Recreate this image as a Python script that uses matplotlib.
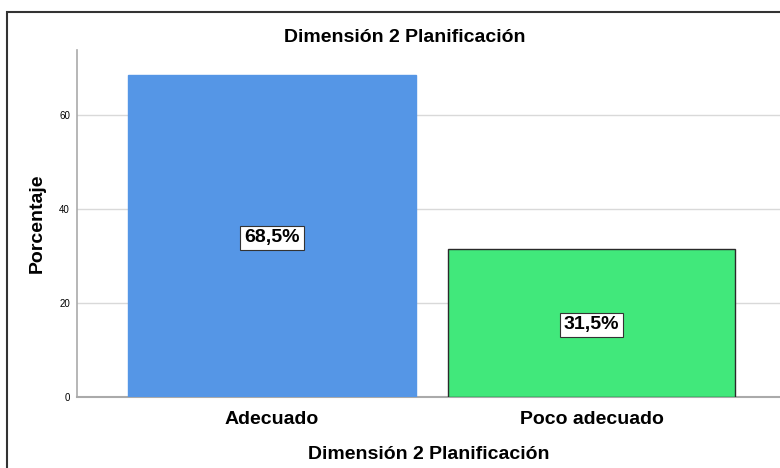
import matplotlib
matplotlib.use('Agg')
import matplotlib.pyplot as plt
from matplotlib.patches import Rectangle

plt.rcParams['font.family'] = ['Liberation Sans', 'DejaVu Sans']

# Data
categories = ['Adecuado', 'Poco adecuado']
percentages = [68.5, 31.5]
labels = ['68,5%', '31,5%']
colors = ['#5596e6', '#41e87b']
edges = ['#5596e6', '#2a2a2a']
yticks = [0, 20, 40, 60]

fig = plt.figure(figsize=(7.8, 4.68), dpi=100)

# outer frame like the SPSS chart window
fig.patches.append(Rectangle((7 / 780, -0.1), 1.0, 1 - 12 / 468 + 0.1,
                             transform=fig.transFigure, fill=False,
                             edgecolor='#333333', linewidth=1.5))

ax = fig.add_axes([77 / 780, 1 - 397 / 468, 1 - 77 / 780, (397 - 50) / 468])

x = range(len(categories))
ax.bar(x, percentages, width=0.9, color=colors, edgecolor=edges,
       linewidth=1.0, zorder=3)

for xi, v, lab in zip(x, percentages, labels):
    ax.text(xi, v / 2, lab, ha='center', va='center_baseline', fontsize=14,
            fontweight='bold', zorder=4,
            bbox=dict(boxstyle='square,pad=0.2', facecolor='white',
                      edgecolor='#333333', linewidth=0.8))

ax.set_xlim(-0.61, 1.59)
ax.set_ylim(0, 73.8)
ax.set_yticks(yticks)
ax.set_yticklabels([str(t) for t in yticks], fontsize=7)
ax.set_xticks(list(x))
ax.set_xticklabels(categories, fontsize=14, fontweight='bold')
ax.tick_params(axis='x', length=0, pad=10)
ax.tick_params(axis='y', length=0, pad=5)
ax.yaxis.grid(True, color='#d9d9d9', linewidth=1.0, zorder=0)
ax.set_axisbelow(True)

for side in ['top', 'right']:
    ax.spines[side].set_visible(False)
ax.spines['left'].set_color('#aaaaaa')
ax.spines['bottom'].set_color('#aaaaaa')
ax.spines['left'].set_linewidth(1.2)
ax.spines['bottom'].set_linewidth(1.5)

ax.set_xlabel('Dimensión 2 Planificación', fontsize=14, fontweight='bold',
              labelpad=13)
ax.set_ylabel('Porcentaje', fontsize=14, fontweight='bold', labelpad=10)
fig.text(405 / 780, 1 - 37 / 468, 'Dimensión 2 Planificación', ha='center',
         va='center', fontsize=14, fontweight='bold')

fig.savefig('out.png', dpi=100)
